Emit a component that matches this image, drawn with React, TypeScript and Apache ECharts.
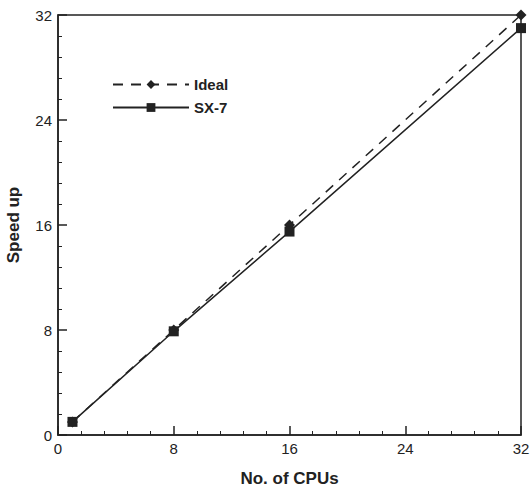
import React, { useEffect, useRef } from "react";
import * as echarts from "echarts";

const cpus = [1, 8, 16, 32];
const ideal = [1, 8, 16, 32];
const sx7 = [1, 7.9, 15.5, 31];
const seriesNames = ["Ideal", "SX-7"];
const axisTitles = { x: "No. of CPUs", y: "Speed up" };

export default function App() {
  const ref = useRef<HTMLDivElement>(null);
  useEffect(() => {
    if (!ref.current) return;
    const chart = echarts.init(ref.current, null, { renderer: "svg" });
    const ink = "#222";
    const font = "Liberation Sans, Arial, sans-serif";
    const axisCommon = {
      type: "value",
      min: 0,
      max: 32,
      interval: 8,
      axisLine: { show: true, lineStyle: { color: ink, width: 1.5 } },
      axisTick: { show: true, inside: true, length: 9, lineStyle: { color: ink, width: 1.5 } },
      minorTick: { show: true, splitNumber: 5, length: 4, lineStyle: { color: ink, width: 1 } },
      splitLine: { show: false },
      axisLabel: { color: ink, fontSize: 15, fontFamily: font, margin: 6 },
      nameLocation: "middle",
      nameTextStyle: { color: ink, fontSize: 17, fontWeight: "bold", fontFamily: font },
    };
    chart.setOption({
      animation: false,
      backgroundColor: "#fff",
      grid: {
        left: 58, right: 9, top: 15, bottom: 53,
        containLabel: false, outerBoundsMode: "none",
        show: true, borderColor: ink, borderWidth: 1.5, backgroundColor: "transparent",
      },
      legend: {
        show: true,
        orient: "vertical",
        left: 107,
        top: 72,
        itemWidth: 76,
        itemHeight: 11,
        itemGap: 8,
        data: seriesNames,
        textStyle: { color: ink, fontSize: 15, fontWeight: "bold", fontFamily: font },
      },
      xAxis: { ...axisCommon, name: axisTitles.x, nameGap: 35 },
      yAxis: { ...axisCommon, name: axisTitles.y, nameGap: 36 },
      series: [
        {
          name: seriesNames[0],
          type: "line",
          data: cpus.map((c, i) => [c, ideal[i]]),
          symbol: "diamond",
          symbolSize: 11,
          itemStyle: { color: ink },
          lineStyle: { color: ink, width: 1.5, type: [10, 8] },
          z: 2,
        },
        {
          name: seriesNames[1],
          type: "line",
          data: cpus.map((c, i) => [c, sx7[i]]),
          symbol: "rect",
          symbolSize: 10,
          itemStyle: { color: ink },
          lineStyle: { color: ink, width: 1.5, type: "solid" },
          z: 3,
        },
      ],
    });
    return () => chart.dispose();
  }, []);
  return <div ref={ref} style={{ width: 530, height: 488, position: "absolute", left: 0, top: 0 }} />;
}
